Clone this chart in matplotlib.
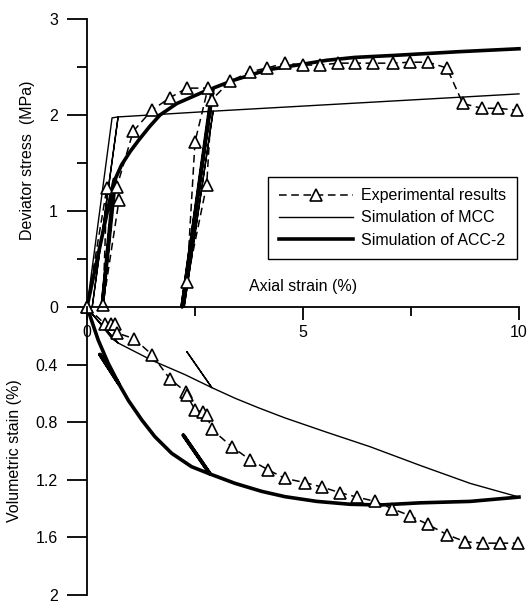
import matplotlib
matplotlib.use("Agg")
import matplotlib.pyplot as plt

plt.rcParams['font.family'] = ['Liberation Sans', 'DejaVu Sans']
plt.rcParams['font.size'] = 11.5

# Experimental results - deviator stress
exp_q_strain = [0.0, 0.46, 0.37, 0.74, 0.69, 1.07, 1.5, 1.92, 2.31, 2.8, 2.5, 2.31, 2.77, 2.89,
                3.31, 3.77, 4.17, 4.58, 5.0, 5.39, 5.81, 6.2, 6.62, 7.08, 7.48, 7.89, 8.33,
                8.70, 9.14, 9.51, 9.95]
exp_q = [0.0, 1.24, 0.02, 1.11, 1.25, 1.83, 2.05, 2.18, 2.28, 2.28, 1.72, 0.26, 1.27, 2.16,
         2.35, 2.45, 2.49, 2.54, 2.52, 2.52, 2.54, 2.54, 2.54, 2.54, 2.55, 2.55, 2.49,
         2.12, 2.07, 2.07, 2.05]

# Experimental results - volumetric strain
exp_v_strain = [0.0, 0.42, 0.55, 0.65, 0.69, 1.09, 1.5, 1.92, 2.29, 2.31, 2.5, 2.69, 2.77, 2.89,
                3.35, 3.77, 4.19, 4.58, 5.05, 5.44, 5.86, 6.25, 6.67, 7.06, 7.48, 7.89, 8.33,
                8.75, 9.17, 9.56, 9.98]
exp_v = [0.0, 0.12, 0.12, 0.12, 0.18, 0.22, 0.33, 0.5, 0.59, 0.61, 0.715, 0.73, 0.75, 0.85,
         0.97, 1.06, 1.13, 1.19, 1.22, 1.25, 1.29, 1.32, 1.35, 1.40, 1.45, 1.51, 1.58,
         1.63, 1.64, 1.64, 1.64]

# MCC simulation
mcc_q_strain = [0, 0.58, 0.72, 0.12, 0.72, 2.92, 2.25, 2.92, 10]
mcc_q = [0, 1.97, 1.98, 0, 1.98, 2.04, 0, 2.04, 2.22]
mcc_v_strain = [0, 0.58, 0.72, 0.12, 0.72, 1.5, 2.27, 2.89, 2.31, 2.89, 3.43, 3.97, 4.58,
                5.55, 6.55, 7.71, 8.87, 10]
mcc_v = [0, 0.22, 0.25, 0.05, 0.25, 0.37, 0.47, 0.56, 0.31, 0.56, 0.634, 0.70, 0.77,
         0.87, 0.97, 1.10, 1.225, 1.32]

# ACC-2 simulation
acc_q_strain = [0, 0.63, 0.35, 0.66, 0.8, 1.0, 1.2, 1.45, 1.69, 2.08, 2.69, 2.9, 2.2, 2.92,
                3.38, 4.17, 5.0, 5.55, 6.2, 7.08, 8.63, 10]
acc_q = [0, 1.33, 0, 1.34, 1.48, 1.62, 1.74, 1.88, 2.0, 2.12, 2.24, 2.27, 0, 2.28,
         2.36, 2.47, 2.53, 2.57, 2.6, 2.62, 2.66, 2.69]
acc_v_strain = [0, 0.26, 0.49, 0.73, 0.30, 0.73, 0.96, 1.27, 1.57, 1.96, 2.42, 2.85, 2.23,
                2.85, 3.43, 4.04, 4.58, 5.32, 6.09, 6.78, 7.71, 8.87, 10]
acc_v = [0, 0.23, 0.39, 0.53, 0.33, 0.53, 0.65, 0.785, 0.90, 1.016, 1.109, 1.16, 0.89,
         1.16, 1.225, 1.28, 1.317, 1.35, 1.37, 1.375, 1.36, 1.35, 1.32]

W, H = 529, 604
fig = plt.figure(figsize=(W / 100, H / 100), dpi=100)
ax1 = fig.add_axes([87 / W, 1 - 307 / H, 432 / W, 288 / H])
ax2 = fig.add_axes([87 / W, 1 - 595 / H, 432 / W, 288 / H])
for ax in (ax1, ax2):
    ax.set_facecolor('none')
    ax.spines['top'].set_visible(False)
    ax.spines['right'].set_visible(False)
    ax.spines['left'].set_linewidth(1.3)
    ax.set_xlim(0, 10)

exp_style = dict(color='black', lw=1.1, ls=(0, (5, 3)), marker='^', ms=8.5, mfc='white',
                 mec='black', mew=1.2, clip_on=False)

# upper panel
ax1.plot(mcc_q_strain, mcc_q, color='black', lw=1.0, clip_on=False, label='Simulation of MCC')
ax1.plot(acc_q_strain, acc_q, color='black', lw=2.6, clip_on=False, label='Simulation of ACC-2')
ax1.plot(exp_q_strain, exp_q, label='Experimental results', **exp_style)

ax1.set_ylim(0, 3)
ax1.spines['bottom'].set_linewidth(1.3)
ax1.set_yticks([0, 1, 2, 3])
ax1.set_yticklabels(['0', '1', '2', '3'])
ax1.set_yticks([0.5, 1.5, 2.5], minor=True)
ax1.set_xticks([0, 5, 10])
ax1.set_xticklabels(['0', '5', '10'])
ax1.set_xticks([2.5, 7.5], minor=True)
ax1.tick_params(axis='y', which='major', length=14.4, width=1.3, pad=6.5)
ax1.tick_params(axis='y', which='minor', length=7.2, width=1.3)
ax1.tick_params(axis='x', which='major', length=9.4, width=1.3, pad=3.5)
ax1.tick_params(axis='x', which='minor', length=6.5, width=1.3)
ax1.set_ylabel('Deviator stress  (MPa)')
ax1.yaxis.set_label_coords(-0.12, 0.51)
ax1.text(5, 0.21, 'Axial strain (%)', ha='center', va='center')

h, l = ax1.get_legend_handles_labels()
leg = ax1.legend([h[2], h[0], h[1]], [l[2], l[0], l[1]], loc='upper right',
                 bbox_to_anchor=(0.995, 0.451), borderaxespad=0, fancybox=False,
                 edgecolor='black', framealpha=1, handlelength=4.6, numpoints=1,
                 labelspacing=0.45, handletextpad=0.5, borderpad=0.7)
leg.get_frame().set_linewidth(1.0)

# lower panel
ax2.plot(mcc_v_strain, mcc_v, color='black', lw=1.0, clip_on=False)
ax2.plot(acc_v_strain, acc_v, color='black', lw=2.6, clip_on=False)
ax2.plot(exp_v_strain, exp_v, **exp_style)

ax2.set_ylim(2, 0)
ax2.spines['bottom'].set_visible(False)
ax2.set_xticks([])
ax2.set_yticks([0.4, 0.8, 1.2, 1.6, 2])
ax2.set_yticklabels(['0.4', '0.8', '1.2', '1.6', '2'])
ax2.tick_params(axis='y', which='major', length=14.4, width=1.3, pad=6.5)
ax2.set_ylabel('Volumetric stain (%)')
ax2.yaxis.set_label_coords(-0.15, 0.5)

plt.savefig('out.png', dpi=100)
